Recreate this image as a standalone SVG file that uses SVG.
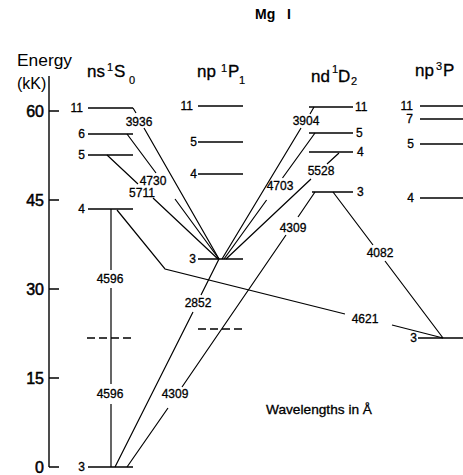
<svg xmlns="http://www.w3.org/2000/svg" width="463" height="475" viewBox="0 0 463 475">
<style>
text{font-family:"Liberation Sans",Arial,sans-serif;fill:#000}
.lv{stroke:#000;stroke-width:1.5;fill:none}
.tr{stroke:#000;stroke-width:1.2;fill:none}
.ds{stroke:#000;stroke-width:1.3;stroke-dasharray:8,4;fill:none}
.ax{stroke:#000;stroke-width:1.4;fill:none}
.n{font-size:12px;stroke:#000;stroke-width:0.3}
.ne{font-size:12px;text-anchor:end;stroke:#000;stroke-width:0.3}
.w{font-size:12px;text-anchor:middle;stroke:#000;stroke-width:0.3}
.hd{font-size:17px;stroke:#000;stroke-width:0.3}
.sup{font-size:11px;stroke:#000;stroke-width:0.2}
.an{font-size:16px;text-anchor:end;stroke:#000;stroke-width:0.5}
</style>
<rect width="463" height="475" fill="#fff"/>
<text x="255" y="19" font-size="14" font-weight="bold">Mg <tspan x="287">I</tspan></text>

<g id="axis">
<text x="17" y="66" font-size="16" textLength="55" lengthAdjust="spacingAndGlyphs">Energy</text>
<text x="17" y="89" font-size="16">(kK)</text>
<path class="ax" d="M49,76V467M49,111H59M49,200H59M49,289H59M49,378H59M49,467H59"/>
<text class="an" x="44" y="117">60</text>
<text class="an" x="44" y="206">45</text>
<text class="an" x="44" y="295">30</text>
<text class="an" x="44" y="384">15</text>
<text class="an" x="44" y="473">0</text>
</g>

<g id="headers">
<text class="hd" x="87" y="77">ns</text><text class="sup" x="107" y="71">1</text><text class="hd" x="114" y="77">S</text><text class="sup" x="129" y="84">0</text>
<text class="hd" x="197" y="77">np</text><text class="sup" x="221" y="72">1</text><text class="hd" x="228" y="77">P</text><text class="sup" x="239" y="84">1</text>
<text class="hd" x="311" y="82">nd</text><text class="sup" x="332" y="73">1</text><text class="hd" x="338" y="82">D</text><text class="sup" x="351" y="85">2</text>
<text class="hd" x="415" y="76">np</text><text class="sup" x="436" y="70">3</text><text class="hd" x="443" y="76">P</text>
</g>

<g id="ns-11"><path class="lv" d="M88,108H133"/><text class="ne" x="83" y="112">11</text></g>
<g id="ns-6"><path class="lv" d="M88,134H133"/><text class="ne" x="85" y="138">6</text></g>
<g id="ns-5"><path class="lv" d="M88,155H133"/><text class="ne" x="85" y="159">5</text></g>
<g id="ns-4"><path class="lv" d="M88,209H133"/><text class="ne" x="85" y="213">4</text></g>
<g id="ns-3"><path class="lv" d="M88,467H133"/><text class="ne" x="85" y="471">3</text></g>
<g id="ns-virtual"><path class="ds" d="M87,338H135"/></g>

<g id="np1-11"><path class="lv" d="M198,106H243"/><text class="ne" x="193" y="110">11</text></g>
<g id="np1-5"><path class="lv" d="M198,142H243"/><text class="ne" x="197" y="146">5</text></g>
<g id="np1-4"><path class="lv" d="M198,174H243"/><text class="ne" x="197" y="178">4</text></g>
<g id="np1-3"><path class="lv" d="M198,259H243"/><text class="ne" x="196" y="263">3</text></g>
<g id="np1-virtual"><path class="ds" d="M198,329H243"/></g>

<g id="nd-11"><path class="lv" d="M309,107H353"/><text class="n" x="355" y="111">11</text></g>
<g id="nd-5"><path class="lv" d="M309,133H353"/><text class="n" x="356" y="137">5</text></g>
<g id="nd-4"><path class="lv" d="M309,152H353"/><text class="n" x="357" y="156">4</text></g>
<g id="nd-3"><path class="lv" d="M312,192H353"/><text class="n" x="357" y="196">3</text></g>

<g id="np3-11"><path class="lv" d="M420,106H463"/><text class="ne" x="413" y="110">11</text></g>
<g id="np3-7"><path class="lv" d="M420,119H463"/><text class="ne" x="413" y="123">7</text></g>
<g id="np3-5"><path class="lv" d="M420,144H463"/><text class="ne" x="414" y="148">5</text></g>
<g id="np3-4"><path class="lv" d="M420,198H463"/><text class="ne" x="414" y="202">4</text></g>
<g id="np3-3"><path class="lv" d="M418,338H463"/><text class="ne" x="417" y="342">3</text></g>

<g id="connectors">
<path class="tr" d="M133,108L136,113M144,128L219,259"/>
<text class="w" x="139" y="126">3936</text>
<path class="tr" d="M127,134L156,173M175,199L219,259"/>
<text class="w" x="153" y="185">4730</text>
<path class="tr" d="M107,155L138,184M153,198L218,259"/>
<text class="w" x="142" y="197">5711</text>
<path class="tr" d="M314,107L310,114M301,128L222,259"/>
<text class="w" x="306" y="125">3904</text>
<path class="tr" d="M315,133L282.5,178M266.6,200L224,259"/>
<text class="w" x="280" y="190">4703</text>
<path class="tr" d="M339,153L327,164M311,179L226,259"/>
<text class="w" x="321" y="175">5528</text>
<path class="tr" d="M315,192L298,217M286,235L182,387M168,408L127,467"/>
<text class="w" x="293" y="232">4309</text>
<text class="w" x="175" y="398">4309</text>
<path class="tr" d="M219,259L201,295M193,312L115,467"/>
<text class="w" x="198" y="307">2852</text>
<path class="tr" d="M111,209V270M111,288V384M111,404V467"/>
<text class="w" x="110" y="283">4596</text>
<text class="w" x="110" y="398">4596</text>
<path class="tr" d="M117,210L165,269L345,314M392,325L443,338"/>
<text class="w" x="365" y="323">4621</text>
<path class="tr" d="M333,192L373,245M385,261L443,338"/>
<text class="w" x="380" y="257">4082</text>
</g>

<text x="266" y="414" font-size="13" textLength="106" lengthAdjust="spacingAndGlyphs" stroke="#000" stroke-width="0.3">Wavelengths in Å</text>
</svg>
